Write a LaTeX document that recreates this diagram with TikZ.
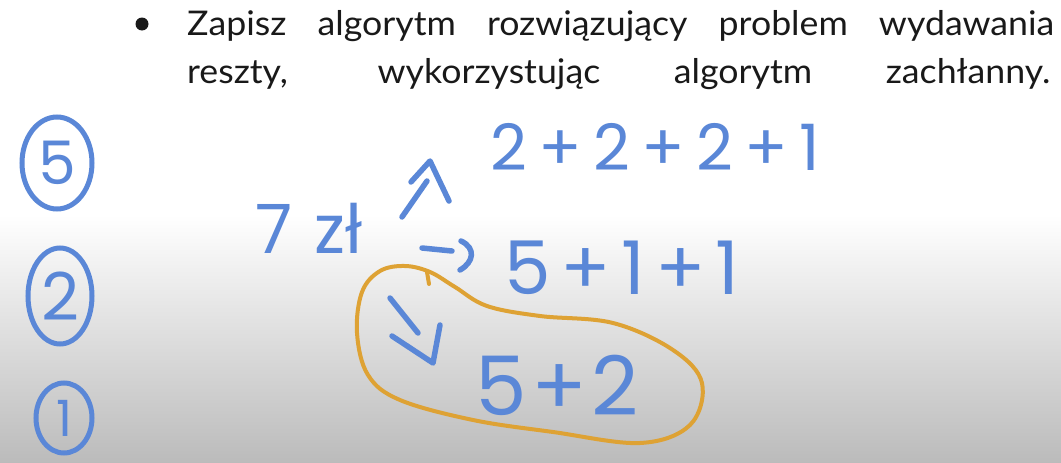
\documentclass[tikz,border=0pt]{standalone}
\usepackage{fontspec}
\setmainfont{Lato}
\newfontfamily\qfont[FakeStretch=1.05]{Lato}
\newfontfamily\handfont{Poppins}
\usetikzlibrary{shapes.geometric}
\definecolor{penblue}{RGB}{90,135,215}
\definecolor{markerorange}{RGB}{222,162,52}
\definecolor{bgbot}{RGB}{187,187,187}
\definecolor{ink}{RGB}{25,25,25}
\begin{document}
\begin{tikzpicture}[x=1pt,y=-1pt,
  penline/.style={draw=penblue, line width=5.5pt, line cap=round, line join=round},
  hand/.style={text=penblue, inner sep=0pt},
  coin/.style={ellipse, draw=penblue, line width=5pt, text=penblue, inner sep=0pt},
  loopline/.style={draw=markerorange, line width=4pt, line cap=round, line join=round},
  qtext/.style={anchor=base west, inner sep=0pt, text=ink, font=\qfont\fontsize{34}{40}\selectfont}]
\useasboundingbox (0,0) rectangle (1061,463);
\fill[white] (0,0) rectangle (1061,216);
\shade[top color=white, bottom color=bgbot] (0,215) rectangle (1061,463);

% question
\node[circle, fill=ink, minimum size=13pt, inner sep=0pt] (bullet) at (142,24) {};
\node[qtext] (q1) at (187,35) {\makebox[867pt][s]{Zapisz algorytm rozwiązujący problem wydawania}};
\node[qtext] (q2) at (187,83) {\makebox[863pt][s]{reszty, wykorzystując algorytm zachłanny.}};

% coins
\node[coin, minimum width=70pt, minimum height=92pt, font=\handfont\fontsize{60}{60}\selectfont] (c5) at (57,163) {5};
\node[coin, minimum width=64pt, minimum height=96pt, font=\handfont\fontsize{66}{66}\selectfont] (c2) at (60,296) {2};
\node[coin, minimum width=56pt, minimum height=70pt, font=\handfont\fontsize{50}{50}\selectfont] (c1) at (64,418) {1};

% amount and sums
\node[hand, font=\handfont\fontsize{68}{68}\selectfont] (amt) at (309,228) {\makebox[108pt]{7\hfill zł}};
\node[hand, font=\handfont\fontsize{64}{64}\selectfont] (s1) at (655,147) {\makebox[330pt]{2\hfill+\hfill2\hfill+\hfill2\hfill+\hfill1}};
\node[hand, font=\handfont\fontsize{74}{74}\selectfont] (s2) at (622,268) {\makebox[235pt]{5\hfill+\hfill1\hfill+\hfill1}};
\node[hand, font=\handfont\fontsize{82}{82}\selectfont] (s3) at (557,385) {\makebox[163pt]{5\hfill+\hfill2}};

% arrows
\coordinate (u0) at (402,217); \coordinate (u1) at (427,181);
\coordinate (ul) at (411,182); \coordinate (ut) at (430,161); \coordinate (ur) at (449,201);
\draw[penline] (u0) -- (u1);
\draw[penline] (ul) -- (ut) -- (ur);

\coordinate (r0) at (422,248); \coordinate (r1) at (452,251);
\coordinate (rh0) at (461,241); \coordinate (rh1) at (460,270);
\draw[penline] (r0) -- (r1);
\draw[penline] (rh0) .. controls (476,248) and (474,262) .. (rh1);

\coordinate (d0) at (390,298); \coordinate (d1) at (418,333);
\coordinate (dl) at (392,336); \coordinate (dt) at (433,363); \coordinate (dr) at (440,325);
\draw[penline] (d0) -- (d1);
\draw[penline] (dl) -- (dt) -- (dr);

% orange loop
\draw[loopline] plot[smooth cycle, tension=0.6] coordinates {
  (357,333) (362,292) (380,271) (405,266) (430,272) (455,287) (487,306)
  (540,316) (613,323) (673,350) (702,383) (690,425) (640,443) (553,432)
  (473,420) (400,400) (368,375)};
\draw[loopline] (427,272) -- (429,284);
\end{tikzpicture}
\end{document}
